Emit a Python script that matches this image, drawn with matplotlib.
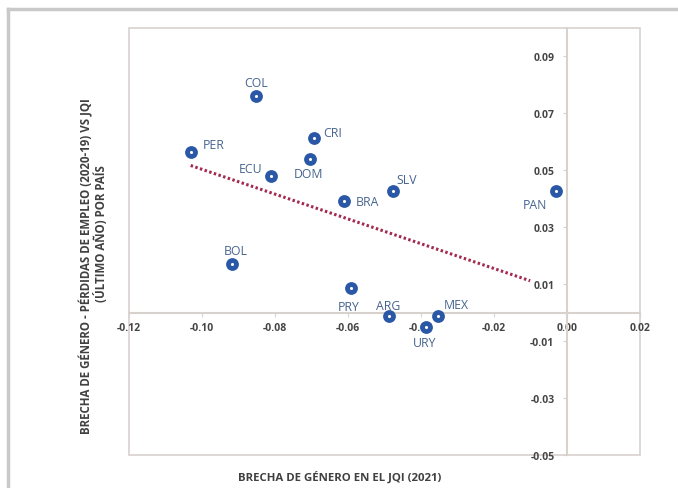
import matplotlib.pyplot as plt
from matplotlib.lines import Line2D
from matplotlib.patches import Rectangle

plt.rcParams['font.family'] = ['Open Sans', 'DejaVu Sans']

# data
countries = ["COL", "PER", "CRI", "DOM", "ECU", "BRA", "SLV", "PAN",
             "BOL", "PRY", "ARG", "MEX", "URY"]
jqi_gap = [-0.0853, -0.1031, -0.0694, -0.0705, -0.0812, -0.0612, -0.0477,
           -0.0031, -0.0917, -0.0593, -0.0489, -0.0354, -0.0386]
job_loss_gap = [0.0762, 0.0564, 0.0613, 0.0540, 0.0480, 0.0391, 0.0427,
                0.0427, 0.0170, 0.0087, -0.0012, -0.0013, -0.0050]
trend_x = [-0.1031, -0.0101]
trend_y = [0.0517, 0.0112]
x_ticks = [-0.12, -0.10, -0.08, -0.06, -0.04, -0.02, 0.00, 0.02]
y_ticks = [-0.05, -0.03, -0.01, 0.01, 0.03, 0.05, 0.07, 0.09]

# label offsets in pixels (layout only)
label_offsets = {"COL": (0, 13), "PER": (23, 8), "CRI": (19, 6), "DOM": (-1, -15),
                 "ECU": (-20, 8), "BRA": (24, 0), "SLV": (14, 12), "PAN": (-21, -13),
                 "BOL": (3, 14), "PRY": (-2, -19), "ARG": (0, 11), "MEX": (19, 12),
                 "URY": (-1, -16)}

W, H = 678, 489
fig = plt.figure(figsize=(W / 100, H / 100), dpi=100)
ax = fig.add_axes([129 / W, 1 - 456 / H, (640 - 129) / W, (456 - 29) / H])

ax.set_xlim(-0.12, 0.02)
ax.set_ylim(-0.05, 0.10)

grid_col = "#D8D2CE"
for s in ["top", "right"]:
    ax.spines[s].set_visible(False)
ax.spines["left"].set_position(("data", 0))
ax.spines["bottom"].set_position(("data", 0))
ax.spines["left"].set_color(grid_col)
ax.spines["bottom"].set_color(grid_col)
ax.spines["left"].set_linewidth(1.5)
ax.spines["bottom"].set_linewidth(1.5)
ax.add_patch(Rectangle((0, 0), 1, 1, transform=ax.transAxes, fill=False,
                       edgecolor=grid_col, lw=1.2, clip_on=False))

ax.set_xticks(x_ticks)
ax.set_yticks(y_ticks)
ax.set_xticklabels([f"{v:.2f}" for v in x_ticks])
ax.set_yticklabels([f"{v:.2f}" for v in y_ticks])
ax.tick_params(axis="both", direction="out", length=3, color=grid_col,
               labelsize=7.5, labelcolor="#454545")
ax.tick_params(axis="x", pad=4)
ax.tick_params(axis="y", pad=6)
for lbl in ax.get_xticklabels() + ax.get_yticklabels():
    lbl.set_fontweight("bold")

ax.plot(trend_x, trend_y, linestyle=(0, (0.8, 0.8)), color="#A3294F", lw=2.2,
        zorder=2)

ax.scatter(jqi_gap, job_loss_gap, s=85, color="#2A58A6", zorder=3, linewidths=0)
ax.scatter(jqi_gap, job_loss_gap, s=5, color="white", zorder=3.5, linewidths=0)

for name, xv, yv in zip(countries, jqi_gap, job_loss_gap):
    dx, dy = label_offsets[name]
    ax.annotate(name, (xv, yv), xytext=(dx, dy), textcoords="offset pixels",
                ha="center", va="center", fontsize=8.8, color="#46648F", zorder=4)

fig.text(340 / W, 1 - 478 / H, "BRECHA DE GÉNERO EN EL JQI (2021)", ha="center",
         va="center", fontsize=8.2, fontweight="bold", color="#404040")
fig.text(86 / W, 1 - 266 / H,
         "BRECHA DE GÉNERO - PÉRDIDAS DE EMPLEO (2020-19) VS JQI",
         rotation=90, ha="center", va="center", fontsize=8.3, fontweight="bold",
         color="#404040")
fig.text(101 / W, 1 - 234 / H, "(ÚLTIMO AÑO) POR PAÍS", rotation=90,
         ha="center", va="center", fontsize=8.3, fontweight="bold", color="#404040")

# outer grey frame (only left and top visible)
fig.add_artist(Line2D([8 / W, 8 / W], [0, 1 - 10 / H], color="#C9C9C9", lw=2.5))
fig.add_artist(Line2D([8 / W, 1], [1 - 10 / H, 1 - 10 / H], color="#C9C9C9", lw=2.5))

fig.savefig("out.png", dpi=100)
